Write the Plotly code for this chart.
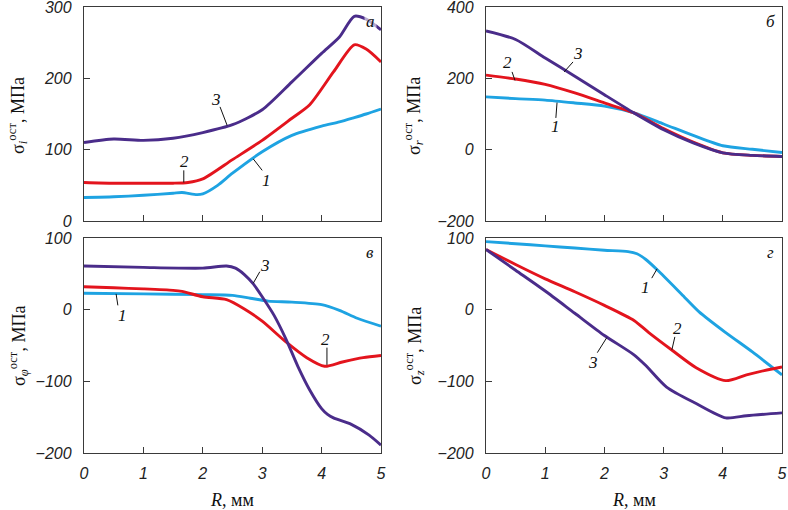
import plotly.graph_objects as go

# ---------------- data ----------------
# panel а : sigma_i
a1_x = [0, 0.5, 1, 1.5, 1.65, 1.9, 2.0, 2.25, 2.5, 3, 3.5, 4, 4.3, 4.55, 4.75, 5]
a1_y = [33, 34, 36, 39, 40, 37, 38, 50, 67, 97, 120, 133, 139, 145, 150, 157]
a2_x = [0, 0.5, 1, 1.5, 1.75, 2, 2.5, 3, 3.5, 3.8, 4.2, 4.55, 4.75, 5]
a2_y = [54, 53, 53, 53, 54, 59, 86, 113, 144, 163, 209, 247, 241, 223]
a3_x = [0, 0.5, 1, 1.5, 2, 2.5, 3, 3.5, 4, 4.3, 4.55, 4.75, 5]
a3_y = [110, 115, 113, 116, 124, 135, 156, 195, 235, 258, 287, 283, 268]

# panel б : sigma_r
b_x = [0, 0.5, 1, 1.5, 2, 2.5, 3, 3.5, 4, 4.5, 5]
b1_y = [148, 143, 139, 131, 122, 103, 72, 40, 11, 1, -8]
b2_y = [209, 198, 183, 159, 131, 103, 59, 21, -9, -16, -19]
b3_y = [333, 309, 257, 206, 154, 103, 56, 19, -9, -16, -19]

# panel в : sigma_phi
c1_x = [0, 1, 2, 2.5, 2.8, 3.1, 3.5, 4.0, 4.3, 4.6, 5]
c1_y = [23, 22, 21, 20, 16, 12, 10.5, 7, -1, -12, -23]
c2_x = [0, 0.5, 1, 1.5, 1.65, 2, 2.4, 2.7, 3.0, 3.4, 3.75, 4.05, 4.35, 4.7, 5]
c2_y = [32, 30.5, 29, 27, 25.5, 18, 14, 1, -16, -45, -67, -79, -73, -67, -64]
c3_x = [0, 1, 2, 2.4, 2.55, 2.7, 2.85, 3.0, 3.2, 3.4, 3.6, 3.8, 4.0, 4.1, 4.2, 4.5, 4.8, 5]
c3_y = [61, 59, 58, 61, 58, 49, 36, 18, -8, -41, -79, -112, -138, -146, -151, -160, -175, -189]

# panel г : sigma_z
d1_x = [0, 0.5, 1, 1.5, 2, 2.4, 2.55, 2.7, 2.9, 3.3, 3.6, 4.05, 4.5, 5]
d1_y = [95, 92, 89, 86, 83, 81, 78, 70, 55, 22, -3, -32, -59, -91]
d2_x = [0, 0.5, 1, 1.5, 2, 2.5, 2.75, 3.15, 3.55, 4.05, 4.4, 4.7, 5]
d2_y = [84, 63, 43, 25, 6, -15, -32, -57, -81, -99, -91, -85, -80]
d3_x = [0, 0.5, 1, 1.5, 2, 2.5, 2.7, 3.05, 3.55, 4.05, 4.4, 5]
d3_y = [84, 55, 26, -5, -36, -63, -78, -108, -131, -151, -148, -144]

x_ticks = [0, 1, 2, 3, 4, 5]
curve_names = ["1", "2", "3"]

BLUE = "#1ea3e2"
RED = "#e3141d"
PURPLE = "#4a2c8a"
AX = "#3a3a3a"

fig = go.Figure()

def add(xs, ys, color, xa, ya):
    fig.add_trace(go.Scatter(x=xs, y=ys, mode="lines", xaxis=xa, yaxis=ya,
                             line=dict(color=color, width=2.9, shape="spline", smoothing=0.7),
                             hoverinfo="skip", showlegend=False))

add(a1_x, a1_y, BLUE, "x", "y")
add(a2_x, a2_y, RED, "x", "y")
add(a3_x, a3_y, PURPLE, "x", "y")
add(b_x, b1_y, BLUE, "x2", "y2")
add(b_x, b2_y, RED, "x2", "y2")
add(b_x, b3_y, PURPLE, "x2", "y2")
add(c1_x, c1_y, BLUE, "x3", "y3")
add(c2_x, c2_y, RED, "x3", "y3")
add(c3_x, c3_y, PURPLE, "x3", "y3")
add(d1_x, d1_y, BLUE, "x4", "y4")
add(d2_x, d2_y, RED, "x4", "y4")
add(d3_x, d3_y, PURPLE, "x4", "y4")

W, H = 788, 510
xl = [84 / W, 381 / W]
xr = [486 / W, 782 / W]
yt = [1 - 221 / H, 1 - 7 / H]
yb = [1 - 453 / H, 1 - 238 / H]

tickfont = dict(family="Liberation Sans, Arial", size=16, style="italic", color="#222")

def xaxis(dom, anchor, labels):
    return dict(domain=dom, anchor=anchor, range=[0, 5], tickvals=x_ticks,
                showticklabels=labels, showgrid=False, zeroline=False, automargin=False,
                showline=True, linecolor=AX, linewidth=1.3, mirror=True,
                ticks="inside", ticklen=6, tickwidth=1.3, tickcolor=AX,
                tickfont=tickfont, ticklabelstandoff=6, ticklabeloverflow="allow")

def yaxis(dom, anchor, rng, dt):
    return dict(domain=dom, anchor=anchor, range=rng, dtick=dt, tick0=0,
                showgrid=False, zeroline=False, automargin=False,
                showline=True, linecolor=AX, linewidth=1.3, mirror=True,
                ticks="inside", ticklen=6, tickwidth=1.3, tickcolor=AX,
                tickfont=tickfont, ticklabelstandoff=8, ticklabeloverflow="allow")

fig.update_layout(
    width=W, height=H, margin=dict(l=0, r=0, t=0, b=0, autoexpand=False),
    paper_bgcolor="white", plot_bgcolor="white",
    xaxis=xaxis(xl, "y", False), yaxis=yaxis(yt, "x", [0, 300], 100),
    xaxis2=xaxis(xr, "y2", False), yaxis2=yaxis(yt, "x2", [-200, 400], 200),
    xaxis3=xaxis(xl, "y3", True), yaxis3=yaxis(yb, "x3", [-200, 100], 100),
    xaxis4=xaxis(xr, "y4", True), yaxis4=yaxis(yb, "x4", [-200, 100], 100),
)

lblfont = dict(family="Liberation Serif, Times New Roman", size=17, color="#111", style="italic")

def label(xr_, yr_, x, y, text, line=None, bg=None):
    fig.add_annotation(x=x, y=y, xref=xr_, yref=yr_, text=text, showarrow=False,
                       font=lblfont, bgcolor=bg, xanchor="center", yanchor="middle")
    if line:
        fig.add_shape(type="line", xref=xr_, yref=yr_, x0=line[0], y0=line[1],
                      x1=line[2], y1=line[3], line=dict(color="#111", width=1))

# panel а
label("x", "y", 2.22, 171, curve_names[2], (2.29, 160, 2.41, 134))
label("x", "y", 1.70, 83, curve_names[1], (1.68, 71, 1.68, 54))
label("x", "y", 3.08, 57, curve_names[0], (3.0, 71, 2.85, 87))
label("x", "y", 4.82, 279, "а", bg="rgba(255,255,255,0.6)")
# panel б
label("x2", "y2", 1.55, 271, curve_names[2], (1.47, 246, 1.32, 218))
label("x2", "y2", 0.37, 243, curve_names[1], (0.44, 218, 0.49, 194))
label("x2", "y2", 1.17, 64, curve_names[0], (1.18, 89, 1.2, 132))
label("x2", "y2", 4.8, 358, "б")
# panel в
label("x3", "y3", 3.05, 62, curve_names[2], (2.96, 53, 2.85, 37))
label("x3", "y3", 0.64, -8, curve_names[0], (0.57, 6, 0.54, 22))
label("x3", "y3", 4.06, -42, curve_names[1], (4.09, -53, 4.09, -77))
label("x3", "y3", 4.81, 80, "в")
# panel г
label("x4", "y4", 2.69, 31, curve_names[0], (2.80, 44, 2.89, 57))
label("x4", "y4", 3.23, -26, curve_names[1], (3.19, -38, 3.14, -56))
label("x4", "y4", 1.81, -74, curve_names[2], (1.88, -60, 2.04, -39))
label("x4", "y4", 4.8, 80, "г")

# axis titles
tfont = dict(family="Liberation Serif, Times New Roman", size=18, color="#111")
def ytitle(px, py, sym):
    fig.add_annotation(x=px / W, y=1 - py / H, xref="paper", yref="paper",
                       text="σ<sub><i>%s</i></sub><sup>ост</sup>, МПа" % sym,
                       textangle=-90, showarrow=False, font=tfont,
                       xanchor="center", yanchor="middle")

ytitle(18, 116, "i")
ytitle(414, 116, "r")
ytitle(18, 346, "φ")
ytitle(414, 346, "z")

for cx in (232, 634):
    fig.add_annotation(x=cx / W, y=1 - 500 / H, xref="paper", yref="paper",
                       text="<i>R</i>, мм", showarrow=False, font=tfont,
                       xanchor="center", yanchor="middle")

fig.write_html("out.html")
